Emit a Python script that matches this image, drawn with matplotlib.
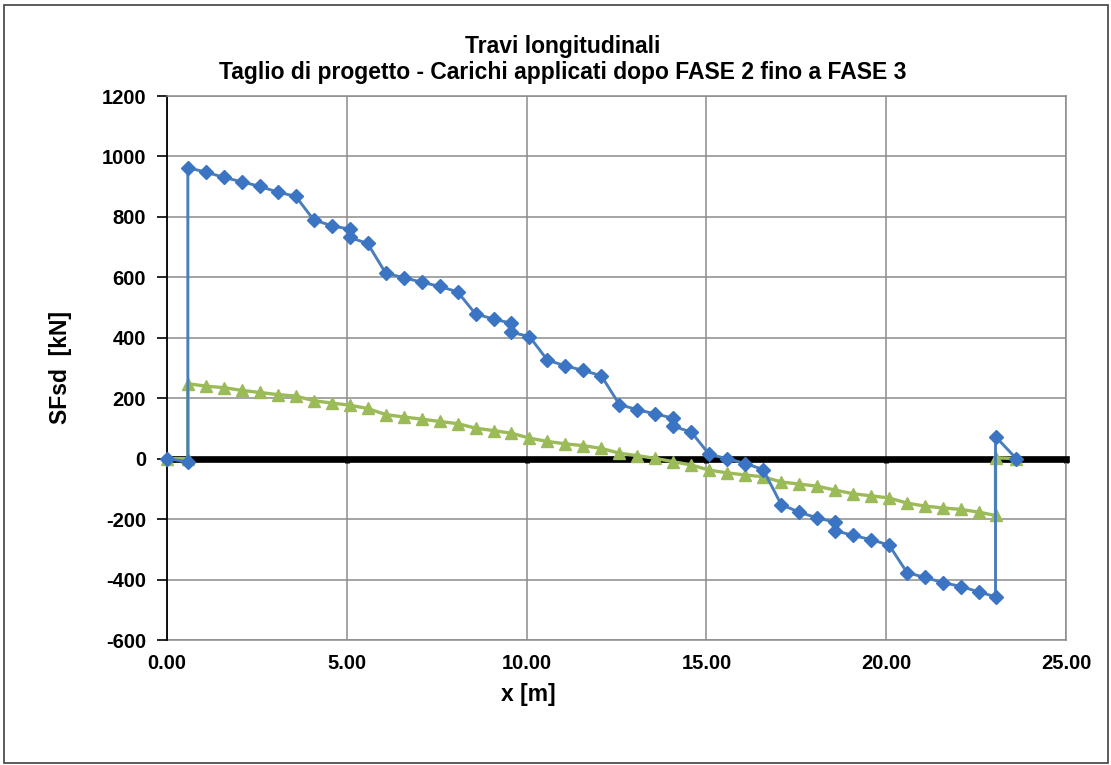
import numpy as np
import matplotlib
matplotlib.use('Agg')
import matplotlib.pyplot as plt
from matplotlib.patches import Rectangle

plt.rcParams['font.family'] = ['Liberation Sans', 'DejaVu Sans']
plt.rcParams['font.weight'] = 'bold'
plt.rcParams['axes.unicode_minus'] = False

# blue series (diamonds) - x [m], shear [kN]
xBlue = [0.00, 0.58, 0.58, 1.08, 1.58, 2.08, 2.58, 3.08, 3.58, 4.08, 4.58, 5.08, 5.08,
         5.58, 6.08, 6.58, 7.08, 7.58, 8.08, 8.58, 9.08, 9.58, 9.58, 10.08, 10.58,
         11.08, 11.58, 12.08, 12.58, 13.08, 13.58, 14.08, 14.08, 14.58, 15.08, 15.58,
         16.08, 16.58, 17.08, 17.58, 18.08, 18.58, 18.58, 19.08, 19.58, 20.08, 20.58,
         21.08, 21.58, 22.08, 22.58, 23.04, 23.04, 23.62]
yBlue = [0, -10, 963, 948, 931, 916, 901, 882, 868, 790, 771, 759, 732,
         712, 614, 599, 584, 570, 552, 479, 462, 448, 418, 404, 326,
         307, 292, 274, 179, 162, 148, 134, 107, 88, 14, 0,
         -16, -36, -152, -177, -196, -210, -238, -254, -268, -286, -377,
         -393, -410, -423, -441, -457, 73, 0]

# green series (triangles)
xGreen = [0.00, 0.58, 0.58, 1.08, 1.58, 2.08, 2.58, 3.08, 3.58, 4.08, 4.58, 5.08,
          5.58, 6.08, 6.58, 7.08, 7.58, 8.08, 8.58, 9.08, 9.58, 10.08, 10.58,
          11.08, 11.58, 12.08, 12.58, 13.08, 13.58, 14.08, 14.58, 15.08, 15.58,
          16.08, 16.58, 17.08, 17.58, 18.08, 18.58, 19.08, 19.58, 20.08, 20.58,
          21.08, 21.58, 22.08, 22.58, 23.04, 23.04, 23.62]
yGreen = [0, 0, 248, 240, 235, 226, 219, 212, 207, 192, 184, 177,
          166, 146, 138, 131, 123, 116, 101, 93, 84, 68, 57,
          49, 43, 34, 18, 10, 1, -10, -21, -38, -47,
          -54, -60, -77, -84, -91, -104, -116, -123, -130, -147,
          -157, -163, -168, -177, -188, 3, 0]

xTicks = [0, 5, 10, 15, 20, 25]
yTicks = [-600, -400, -200, 0, 200, 400, 600, 800, 1000, 1200]

fig = plt.figure(figsize=(11.11, 7.65), dpi=100)
ax = fig.add_axes([167 / 1111, 1 - 640 / 765, (1066 - 167) / 1111, (640 - 96) / 765])

blueCol = '#4A7EBB'
greenCol = '#9BBB59'
ax.plot(xGreen, yGreen, color=greenCol, lw=2.4, marker='^', ms=9,
        mfc=greenCol, mec=greenCol, zorder=4, clip_on=False)
ax.plot(xBlue, yBlue, color=blueCol, lw=2.1, marker='D', ms=7.5,
        mfc='#3C74C4', mec='#3C74C4', zorder=5, clip_on=False)

ax.set_xlim(0, 25)
ax.set_ylim(-600, 1200)
ax.set_xticks(xTicks)
ax.set_yticks(yTicks)
ax.grid(True, color='#8C8C8C', lw=1.1)
ax.set_axisbelow(True)

# x axis drawn at zero, thick black
ax.spines['bottom'].set_position(('data', 0))
ax.spines['bottom'].set_linewidth(4.8)
ax.spines['bottom'].set_zorder(3)
ax.tick_params(axis='x', direction='out', length=3, width=3.5, labelbottom=False, color='black')
ax.spines['top'].set_color('#8C8C8C')
ax.spines['right'].set_color('#8C8C8C')
ax.spines['top'].set_linewidth(1.1)
ax.spines['right'].set_linewidth(1.1)
ax.spines['left'].set_linewidth(1.3)
ax.tick_params(axis='y', direction='out', length=7, width=1.2, labelsize=14.5, pad=8)

sec = ax.secondary_xaxis('bottom')
sec.set_xticks(xTicks)
sec.set_xticklabels(['%.2f' % t for t in xTicks])
sec.tick_params(length=0, labelsize=14.5, pad=10)
sec.spines['bottom'].set_color('#8C8C8C')
sec.spines['bottom'].set_linewidth(1.1)

for lab in ax.get_yticklabels() + sec.get_xticklabels():
    lab.set_fontweight('bold')

fig.text(563 / 1111, 1 - 47 / 765, 'Travi longitudinali', ha='center', va='center',
         fontsize=16.5, fontweight='bold')
fig.text(563 / 1111, 1 - 73 / 765, 'Taglio di progetto - Carichi applicati dopo FASE 2 fino a FASE 3',
         ha='center', va='center', fontsize=16.5, fontweight='bold')
fig.text(528 / 1111, 1 - 695 / 765, 'x [m]', ha='center', va='center', fontsize=16.5, fontweight='bold')
fig.text(60 / 1111, 1 - 367 / 765, 'SFsd  [kN]', ha='center', va='center', rotation=90,
         fontsize=16.5, fontweight='bold')

fig.patches.append(Rectangle((4 / 1111, 1 - 763 / 765), 1104 / 1111, 758 / 765,
                             transform=fig.transFigure, fill=False, edgecolor='#404040', lw=1.2))

fig.savefig('out.png', dpi=100)
